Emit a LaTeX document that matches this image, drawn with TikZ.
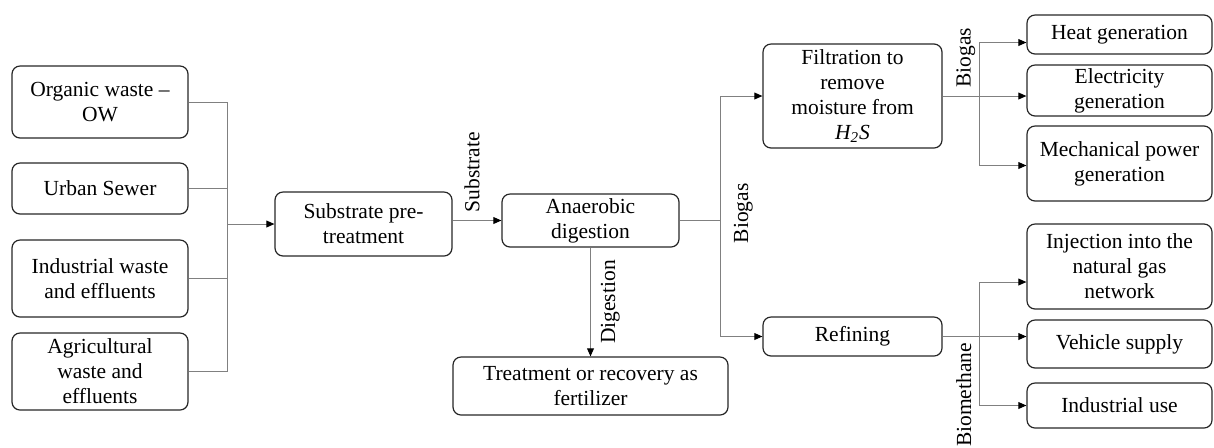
\documentclass[tikz,border=0pt]{standalone}
\usepackage{fontspec}
\setmainfont{Liberation Serif}
\usetikzlibrary{positioning,arrows.meta}

\begin{document}
\begin{tikzpicture}[on grid,
    font=\rmfamily\fontsize{10.75}{12.5}\selectfont,
    box/.style={draw=black!85, line width=0.6pt, rounded corners=4pt, align=center, inner sep=0.5pt},
    link/.style={draw=black!50, line width=0.5pt},
    arrow/.style={link, -{Triangle[length=4pt,width=3.4pt,black]}},
    lbl/.style={rotate=90, inner sep=2pt}]

  \useasboundingbox (0,0) rectangle (607pt,-223.5pt);

  % sources
  \node[box, minimum width=88pt, minimum height=36pt]   (ow) at (50pt,-51pt) {Organic waste --\\OW};
  \node[box, minimum width=88pt, minimum height=25.5pt] (sewer) [below=43.25pt of ow]  {Urban Sewer};
  \node[box, minimum width=88pt, minimum height=38.5pt] (ind)   [below=45pt of sewer]  {Industrial waste\\and effluents};
  \node[box, minimum width=88pt, minimum height=38.5pt] (agr)   [below=46.5pt of ind]  {Agricultural\\waste and\\effluents};

  % process
  \node[box, minimum width=88.5pt, minimum height=32pt]   (sub)   at (181.75pt,-112pt)   {Substrate pre-\\treatment};
  \node[box, minimum width=88.5pt, minimum height=26.5pt] (ana)   at (295.25pt,-110.25pt) {Anaerobic\\digestion};
  \node[box, minimum width=137.5pt, minimum height=29pt]  (treat) [below=82.75pt of ana] {Treatment or recovery as\\fertilizer};
  \node[box, minimum width=89.5pt, minimum height=52pt]   (filt)  at (426.25pt,-48pt)    {Filtration to\\remove\\moisture from\\\textit{H\textsubscript{2}S}};
  \node[box, minimum width=89.5pt, minimum height=19.5pt] (ref)   [below=120.25pt of filt] {Refining};

  % uses
  \node[box, minimum width=92.5pt, minimum height=19.5pt] (heat)   at (559.75pt,-17.25pt) {Heat generation};
  \node[box, minimum width=92.5pt, minimum height=25.5pt] (elec)   [below=28pt of heat]    {Electricity\\generation};
  \node[box, minimum width=92.5pt, minimum height=37.5pt] (mech)   [below=36.5pt of elec]  {Mechanical power\\generation};
  \node[box, minimum width=92.5pt, minimum height=42.5pt] (inj)    [below=51.5pt of mech]  {Injection into the\\natural gas\\network};
  \node[box, minimum width=92.5pt, minimum height=24pt]   (veh)    [below=38.75pt of inj]  {Vehicle supply};
  \node[box, minimum width=92.5pt, minimum height=22.5pt] (induse) [below=30.75pt of veh]  {Industrial use};

  \coordinate (j1) at ([xshift=19.5pt]ow.east);
  \coordinate (j2) at ([xshift=20.5pt]ana.east);
  \coordinate (j3) at ([xshift=18.5pt]filt.east);
  \coordinate (j4) at ([xshift=18.5pt]ref.east);
  \coordinate (injin) at ([yshift=-7.75pt]inj.west);

  % collect the wastes
  \draw[link] (ow.east) -- (j1) -- (j1 |- agr.east) -- (agr.east);
  \draw[link] (sewer.east) -- (j1 |- sewer.east);
  \draw[link] (ind.east) -- (j1 |- ind.east);
  \draw[arrow] (j1 |- sub.west) -- (sub.west);

  % shifts of the turned labels are in their own frame
  \draw[arrow] (sub.east |- ana.west) -- node[lbl, anchor=west, xshift=2pt, yshift=2.5pt] {Substrate} (ana.west);
  \draw[arrow] (ana.south) -- node[lbl, anchor=north, yshift=-3pt] {Digestion} (ana.south |- treat.north);

  % biogas split
  \draw[link] (ana.east) -- (j2);
  \draw[arrow] (j2) |- (filt.west);
  \draw[arrow] (j2) |- (ref.west);
  \path (j2 |- filt.west) -- node[lbl, anchor=north, xshift=1.5pt, yshift=-4.5pt] {Biogas} (j2 |- ref.west);

  % energy uses
  \draw[link] (filt.east) -- (j3);
  \draw[arrow] (j3) |- ([yshift=-4pt]heat.west);
  \draw[arrow] (j3) -- (j3 -| elec.west);
  \draw[arrow] (j3) |- ([yshift=-1pt]mech.west);
  \node[lbl, anchor=south west] at ([yshift=2pt]j3) {Biogas};

  % biomethane uses
  \draw[arrow] (ref.east) -- (ref.east -| veh.west);
  \draw[link] (j4 |- injin) -- (j4 |- induse.west);
  \draw[arrow] (j4 |- injin) -- (injin);
  \draw[arrow] (j4 |- induse.west) -- (induse.west);
  \node[lbl, anchor=south east] at ([xshift=-2pt,yshift=-1pt]j4) {Biomethane};

\end{tikzpicture}
\end{document}
